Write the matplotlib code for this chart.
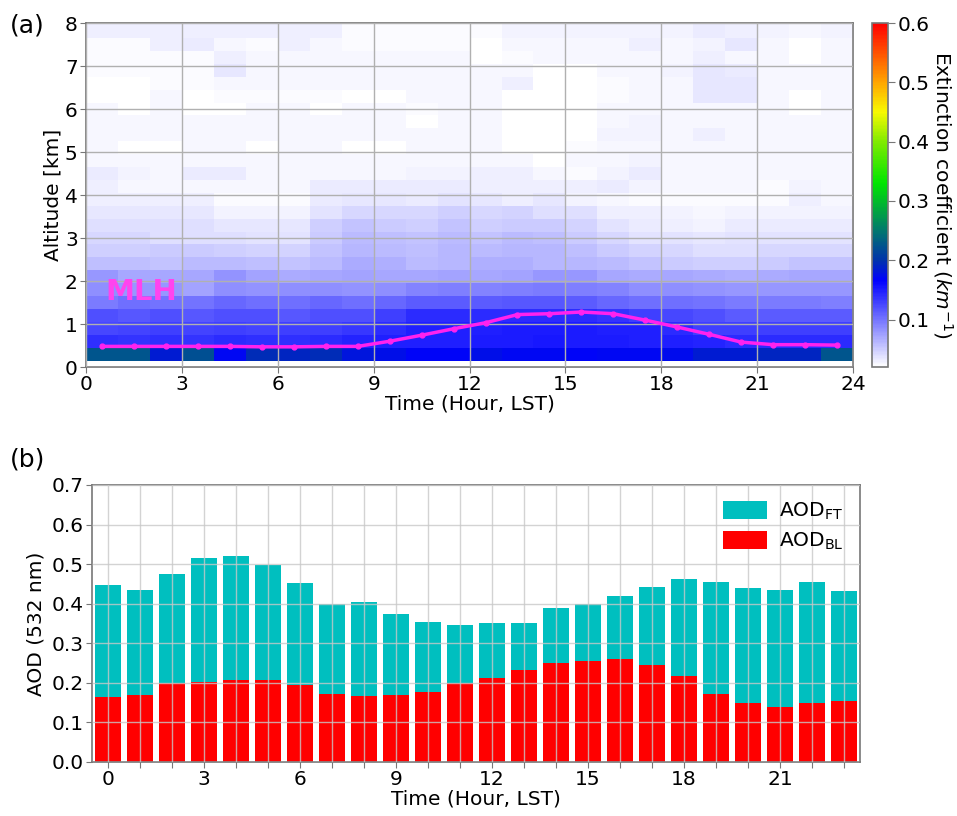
import numpy as np
import matplotlib.pyplot as plt
from matplotlib.colors import LinearSegmentedColormap

# hourly bins (LST) and lidar range bins (km)
hours = np.arange(24)
alt_edges = np.round(np.arange(0.15, 8.26, 0.3), 2)

# extinction coefficient (km^-1), one row per altitude bin, bottom to top
ext = [
    [0.225, 0.225, 0.185, 0.220, 0.170, 0.195, 0.190, 0.195, 0.180, 0.175, 0.168, 0.168,
     0.175, 0.170, 0.170, 0.168, 0.170, 0.170, 0.172, 0.185, 0.185, 0.190, 0.190, 0.225],
    [0.139, 0.137, 0.139, 0.137, 0.142, 0.139, 0.139, 0.142, 0.145, 0.148, 0.148, 0.148,
     0.150, 0.150, 0.152, 0.150, 0.150, 0.148, 0.148, 0.145, 0.142, 0.142, 0.142, 0.142],
    [0.125, 0.128, 0.131, 0.128, 0.131, 0.128, 0.131, 0.131, 0.134, 0.142, 0.148, 0.148,
     0.148, 0.150, 0.150, 0.150, 0.148, 0.148, 0.142, 0.131, 0.131, 0.131, 0.131, 0.131],
    [0.120, 0.117, 0.120, 0.117, 0.120, 0.120, 0.117, 0.120, 0.120, 0.131, 0.142, 0.142,
     0.142, 0.142, 0.142, 0.142, 0.137, 0.131, 0.125, 0.120, 0.114, 0.114, 0.114, 0.114],
    [0.097, 0.103, 0.100, 0.100, 0.108, 0.103, 0.103, 0.108, 0.103, 0.108, 0.114, 0.114,
     0.114, 0.117, 0.117, 0.114, 0.108, 0.103, 0.103, 0.100, 0.097, 0.097, 0.097, 0.094],
    [0.085, 0.080, 0.080, 0.074, 0.085, 0.083, 0.085, 0.085, 0.083, 0.085, 0.091, 0.094,
     0.091, 0.094, 0.097, 0.094, 0.091, 0.085, 0.085, 0.083, 0.080, 0.080, 0.080, 0.080],
    [0.080, 0.071, 0.071, 0.071, 0.083, 0.074, 0.068, 0.071, 0.074, 0.071, 0.071, 0.074,
     0.071, 0.074, 0.080, 0.080, 0.071, 0.068, 0.071, 0.068, 0.066, 0.068, 0.071, 0.071],
    [0.057, 0.057, 0.054, 0.060, 0.060, 0.057, 0.054, 0.060, 0.068, 0.066, 0.060, 0.063,
     0.066, 0.066, 0.063, 0.063, 0.060, 0.054, 0.051, 0.048, 0.048, 0.051, 0.054, 0.054],
    [0.048, 0.048, 0.051, 0.051, 0.048, 0.046, 0.046, 0.054, 0.063, 0.060, 0.057, 0.063,
     0.060, 0.063, 0.063, 0.057, 0.051, 0.046, 0.043, 0.040, 0.040, 0.043, 0.043, 0.043],
    [0.043, 0.043, 0.040, 0.040, 0.040, 0.037, 0.037, 0.051, 0.060, 0.057, 0.054, 0.060,
     0.054, 0.060, 0.057, 0.051, 0.043, 0.037, 0.037, 0.034, 0.037, 0.037, 0.037, 0.037],
    [0.039, 0.039, 0.039, 0.039, 0.034, 0.034, 0.034, 0.048, 0.054, 0.051, 0.048, 0.054,
     0.048, 0.051, 0.051, 0.046, 0.037, 0.033, 0.031, 0.029, 0.033, 0.033, 0.033, 0.033],
    [0.034, 0.034, 0.034, 0.034, 0.027, 0.027, 0.027, 0.037, 0.043, 0.043, 0.043, 0.048,
     0.043, 0.046, 0.040, 0.040, 0.030, 0.030, 0.029, 0.026, 0.029, 0.029, 0.029, 0.029],
    [0.030, 0.030, 0.030, 0.030, 0.024, 0.024, 0.024, 0.033, 0.035, 0.034, 0.033, 0.037,
     0.034, 0.031, 0.034, 0.029, 0.026, 0.024, 0.024, 0.024, 0.024, 0.024, 0.031, 0.026],
    [0.030, 0.026, 0.026, 0.026, 0.026, 0.026, 0.026, 0.033, 0.033, 0.033, 0.033, 0.033,
     0.031, 0.031, 0.031, 0.031, 0.033, 0.029, 0.026, 0.026, 0.026, 0.024, 0.029, 0.026],
    [0.033, 0.029, 0.026, 0.033, 0.033, 0.026, 0.026, 0.026, 0.026, 0.026, 0.029, 0.029,
     0.031, 0.031, 0.026, 0.024, 0.029, 0.033, 0.026, 0.026, 0.026, 0.026, 0.026, 0.026],
    [0.026, 0.026, 0.026, 0.026, 0.026, 0.026, 0.026, 0.026, 0.026, 0.026, 0.026, 0.026,
     0.026, 0.026, 0.022, 0.026, 0.026, 0.029, 0.026, 0.026, 0.026, 0.026, 0.026, 0.026],
    [0.026, 0.020, 0.020, 0.026, 0.026, 0.020, 0.026, 0.026, 0.020, 0.020, 0.026, 0.026,
     0.026, 0.020, 0.020, 0.024, 0.026, 0.026, 0.026, 0.026, 0.026, 0.026, 0.026, 0.026],
    [0.026, 0.026, 0.026, 0.026, 0.026, 0.026, 0.026, 0.026, 0.026, 0.026, 0.026, 0.026,
     0.026, 0.020, 0.020, 0.020, 0.029, 0.029, 0.026, 0.031, 0.026, 0.026, 0.026, 0.026],
    [0.026, 0.026, 0.026, 0.026, 0.026, 0.026, 0.026, 0.026, 0.026, 0.026, 0.020, 0.026,
     0.026, 0.020, 0.020, 0.020, 0.026, 0.029, 0.026, 0.026, 0.026, 0.026, 0.026, 0.026],
    [0.026, 0.021, 0.026, 0.021, 0.021, 0.026, 0.026, 0.021, 0.026, 0.026, 0.023, 0.026,
     0.026, 0.020, 0.020, 0.020, 0.026, 0.026, 0.026, 0.026, 0.026, 0.026, 0.020, 0.026],
    [0.020, 0.020, 0.026, 0.020, 0.024, 0.024, 0.024, 0.024, 0.020, 0.021, 0.026, 0.026,
     0.026, 0.020, 0.020, 0.020, 0.024, 0.026, 0.026, 0.035, 0.035, 0.026, 0.020, 0.026],
    [0.020, 0.020, 0.024, 0.024, 0.026, 0.026, 0.026, 0.026, 0.026, 0.026, 0.026, 0.026,
     0.026, 0.031, 0.020, 0.020, 0.024, 0.026, 0.026, 0.035, 0.035, 0.026, 0.026, 0.026],
    [0.024, 0.024, 0.024, 0.024, 0.035, 0.026, 0.026, 0.026, 0.026, 0.026, 0.026, 0.026,
     0.026, 0.026, 0.020, 0.020, 0.026, 0.026, 0.029, 0.034, 0.033, 0.026, 0.026, 0.026],
    [0.024, 0.024, 0.024, 0.024, 0.030, 0.026, 0.026, 0.026, 0.026, 0.026, 0.026, 0.026,
     0.020, 0.024, 0.026, 0.026, 0.026, 0.026, 0.026, 0.031, 0.026, 0.026, 0.020, 0.026],
    [0.023, 0.023, 0.030, 0.033, 0.026, 0.024, 0.030, 0.026, 0.024, 0.024, 0.024, 0.024,
     0.020, 0.026, 0.026, 0.026, 0.026, 0.031, 0.026, 0.029, 0.034, 0.026, 0.020, 0.026],
    [0.031, 0.031, 0.031, 0.031, 0.031, 0.031, 0.031, 0.031, 0.024, 0.024, 0.024, 0.024,
     0.024, 0.029, 0.029, 0.029, 0.029, 0.029, 0.029, 0.033, 0.031, 0.029, 0.026, 0.029],
    [0.031, 0.031, 0.031, 0.031, 0.031, 0.031, 0.031, 0.031, 0.024, 0.024, 0.024, 0.024,
     0.024, 0.029, 0.029, 0.029, 0.029, 0.029, 0.029, 0.033, 0.031, 0.029, 0.026, 0.029],
]

# mixing layer height (km) at each half hour
mlh_time = hours + 0.5
mlh = [0.48, 0.48, 0.48, 0.48, 0.48, 0.47, 0.47, 0.48, 0.48, 0.60, 0.74, 0.89,
       1.03, 1.22, 1.24, 1.28, 1.24, 1.09, 0.93, 0.76, 0.58, 0.52, 0.52, 0.51]

# AOD at 532 nm: boundary layer and free troposphere parts
aod_bl = [0.164, 0.170, 0.199, 0.202, 0.208, 0.208, 0.194, 0.173, 0.166, 0.170, 0.176, 0.199,
          0.212, 0.232, 0.250, 0.256, 0.259, 0.246, 0.216, 0.171, 0.148, 0.139, 0.148, 0.153]
aod_ft = [0.283, 0.264, 0.276, 0.313, 0.312, 0.290, 0.258, 0.226, 0.239, 0.205, 0.178, 0.148,
          0.138, 0.118, 0.140, 0.143, 0.161, 0.197, 0.246, 0.283, 0.291, 0.295, 0.306, 0.279]

vmin, vmax = 0.02, 0.6
nodes = [(0.02, (1, 1, 1)), (0.165, (0, 0, 1)), (0.2, (0, 0.2, 0.67)),
         (0.25, (0, 0.47, 0.43)), (0.33, (0, 0.9, 0)), (0.4, (0.5, 0.92, 0)),
         (0.45, (0.97, 0.98, 0)), (0.5, (1, 0.65, 0)), (0.6, (1, 0, 0))]
cmap = LinearSegmentedColormap.from_list(
    "ext", [((v - vmin) / (vmax - vmin), c) for v, c in nodes])

plt.rcParams["font.size"] = 14.5
plt.rcParams["axes.edgecolor"] = "#777777"
plt.rcParams["axes.linewidth"] = 1.2

fig = plt.figure(figsize=(9.57, 8.16), dpi=100)
ax1 = fig.add_axes([0.0899, 0.5502, 0.8015, 0.4216])
cax = fig.add_axes([0.9112, 0.5502, 0.0168, 0.4216])
ax2 = fig.add_axes([0.0961, 0.0662, 0.8025, 0.3395])

# (a) extinction profile
mesh = ax1.pcolormesh(np.arange(25), alt_edges, np.array(ext), cmap=cmap,
                      vmin=vmin, vmax=vmax)
ax1.plot(mlh_time, mlh, color="#ff22ee", lw=2.5, marker="o", ms=3.5, zorder=4)
ax1.text(0.6, 1.55, "MLH", color="#ff44ee", fontsize=21, fontweight="bold", zorder=5)
ax1.set_xlim(0, 24)
ax1.set_ylim(0, 8)
ax1.set_xticks(range(0, 25, 3))
ax1.set_yticks(range(0, 9))
ax1.grid(True, color="#b0b0b0", lw=1.0)
ax1.set_axisbelow(False)
ax1.tick_params(length=4, color="#777777", pad=2)
ax1.set_xlabel("Time (Hour, LST)", labelpad=0)
ax1.set_ylabel("Altitude [km]", labelpad=2)

cb = fig.colorbar(mesh, cax=cax, ticks=[0.1, 0.2, 0.3, 0.4, 0.5, 0.6])
cb.outline.set_edgecolor("#777777")
cb.ax.tick_params(length=5, color="#777777", pad=2)
cb.set_label("Extinction coefficient ($km^{-1}$)", rotation=270, labelpad=18)

# (b) stacked AOD bars
ax2.bar(hours, aod_ft, width=0.8, bottom=aod_bl, color="#00bfbf",
        label="AOD$_{\\mathrm{FT}}$")
ax2.bar(hours, aod_bl, width=0.8, color="#ff0000", label="AOD$_{\\mathrm{BL}}$")
ax2.set_xlim(-0.5, 23.5)
ax2.set_ylim(0, 0.7)
ax2.set_xticks(hours)
ax2.set_xticklabels([str(h) if h % 3 == 0 else "" for h in hours])
ax2.set_yticks(np.arange(0, 0.71, 0.1))
ax2.yaxis.set_major_formatter(plt.FormatStrFormatter("%.1f"))
ax2.grid(True, color="#c8c8c8", lw=1.0, alpha=0.8)
ax2.set_axisbelow(False)
ax2.tick_params(length=4, color="#777777", pad=2)
ax2.set_xlabel("Time (Hour, LST)", labelpad=0)
ax2.set_ylabel("AOD (532 nm)")
ax2.legend(loc="upper right", frameon=False, fontsize=14.5, handlelength=2.2,
           handleheight=1.0, borderaxespad=0.4, labelspacing=0.4, handletextpad=0.6)

fig.text(0.010, 0.960, "(a)", fontsize=18)
fig.text(0.010, 0.428, "(b)", fontsize=18)

fig.savefig("out.png", dpi=100)
